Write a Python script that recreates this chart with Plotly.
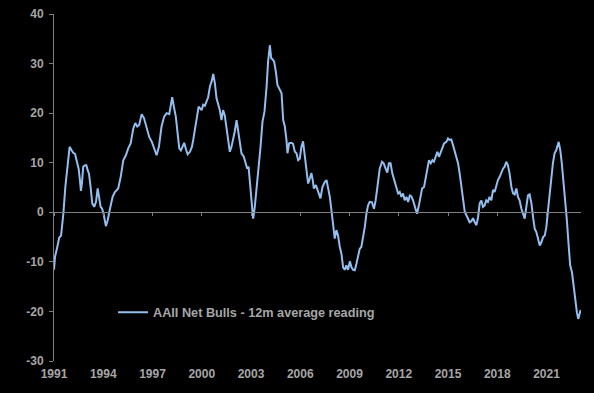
import plotly.graph_objects as go

# Decimal-year dates and AAII Net Bulls 12m average readings
years = [
    1991.00, 1991.06, 1991.20, 1991.32, 1991.43, 1991.50, 1991.57, 1991.69, 1991.83, 1991.95,
    1992.07, 1992.17, 1992.28, 1992.38, 1992.50, 1992.58, 1992.64, 1992.70, 1992.78, 1992.89,
    1992.97, 1993.05, 1993.13, 1993.23, 1993.33, 1993.45, 1993.56, 1993.66, 1993.76, 1993.84,
    1993.92, 1994.02, 1994.16, 1994.27, 1994.41, 1994.57, 1994.71, 1994.91, 1995.06, 1995.22,
    1995.38, 1995.52, 1995.67, 1995.83, 1995.95, 1996.07, 1996.19, 1996.34, 1996.48, 1996.64,
    1996.80, 1996.96, 1997.06, 1997.17, 1997.25, 1997.39, 1997.55, 1997.71, 1997.86, 1998.02,
    1998.10, 1998.20, 1998.30, 1998.42, 1998.53, 1998.63, 1998.73, 1998.83, 1998.93, 1999.04,
    1999.14, 1999.28, 1999.40, 1999.48, 1999.58, 1999.69, 1999.81, 1999.99, 2000.09, 2000.19,
    2000.30, 2000.39, 2000.50, 2000.60, 2000.70, 2000.80, 2000.90, 2001.00, 2001.10, 2001.20,
    2001.30, 2001.40, 2001.51, 2001.61, 2001.71, 2001.81, 2001.91, 2002.01, 2002.12, 2002.22,
    2002.32, 2002.42, 2002.56, 2002.68, 2002.77, 2002.85, 2002.93, 2003.03, 2003.13, 2003.23,
    2003.34, 2003.46, 2003.58, 2003.70, 2003.82, 2003.95, 2004.04, 2004.15, 2004.23, 2004.31,
    2004.41, 2004.51, 2004.61, 2004.76, 2004.86, 2004.96, 2005.06, 2005.16, 2005.22, 2005.32,
    2005.46, 2005.56, 2005.67, 2005.77, 2005.87, 2005.97, 2006.07, 2006.17, 2006.28, 2006.38,
    2006.48, 2006.58, 2006.68, 2006.76, 2006.83, 2006.95, 2007.09, 2007.23, 2007.35, 2007.49,
    2007.60, 2007.70, 2007.80, 2007.90, 2008.00, 2008.10, 2008.20, 2008.30, 2008.41, 2008.51,
    2008.61, 2008.71, 2008.81, 2008.91, 2009.02, 2009.12, 2009.22, 2009.32, 2009.42, 2009.52,
    2009.62, 2009.72, 2009.83, 2009.93, 2010.03, 2010.13, 2010.23, 2010.37, 2010.49, 2010.59,
    2010.70, 2010.84, 2010.98, 2011.08, 2011.20, 2011.30, 2011.40, 2011.50, 2011.61, 2011.71,
    2011.86, 2011.96, 2012.06, 2012.16, 2012.26, 2012.36, 2012.47, 2012.57, 2012.67, 2012.77,
    2012.87, 2012.97, 2013.11, 2013.21, 2013.32, 2013.42, 2013.54, 2013.64, 2013.74, 2013.84,
    2013.95, 2014.05, 2014.14, 2014.24, 2014.35, 2014.45, 2014.56, 2014.66, 2014.76, 2014.90,
    2015.00, 2015.10, 2015.20, 2015.30, 2015.41, 2015.51, 2015.61, 2015.71, 2015.81, 2015.91,
    2016.02, 2016.12, 2016.22, 2016.32, 2016.42, 2016.52, 2016.63, 2016.73, 2016.83, 2016.93,
    2017.03, 2017.13, 2017.23, 2017.33, 2017.43, 2017.53, 2017.64, 2017.74, 2017.84, 2017.94,
    2018.04, 2018.14, 2018.25, 2018.35, 2018.45, 2018.55, 2018.65, 2018.75, 2018.86, 2018.96,
    2019.06, 2019.16, 2019.26, 2019.36, 2019.47, 2019.57, 2019.67, 2019.77, 2019.87, 2019.97,
    2020.08, 2020.18, 2020.28, 2020.38, 2020.49, 2020.59, 2020.69, 2020.79, 2020.89, 2020.99,
    2021.09, 2021.19, 2021.29, 2021.39, 2021.49, 2021.59, 2021.74, 2021.84, 2021.93, 2022.03,
    2022.14, 2022.24, 2022.34, 2022.44, 2022.55, 2022.65, 2022.75, 2022.85, 2022.93, 2023.01,
    2023.08,
]
net_bulls = [
    -11.6, -9.0, -7.0, -5.1, -4.7, -3.0, -0.3, 5.1, 9.2, 13.2,
    12.5, 12.0, 11.8, 10.5, 8.8, 6.5, 4.3, 5.8, 9.2, 9.5,
    9.5, 8.5, 7.8, 5.1, 1.8, 1.1, 2.1, 4.8, 3.1, 1.1,
    0.8, -0.3, -2.8, -1.6, 0.7, 3.1, 4.1, 4.8, 7.1, 10.5,
    11.5, 12.9, 13.9, 16.9, 18.0, 17.3, 17.6, 19.8, 19.0, 17.3,
    15.2, 14.2, 13.2, 11.9, 11.5, 13.2, 17.3, 19.3, 20.0, 19.8,
    21.3, 23.2, 21.3, 19.3, 15.9, 12.9, 12.5, 13.2, 14.0, 12.7,
    11.7, 12.2, 13.2, 14.6, 16.9, 18.6, 21.3, 20.6, 21.7, 21.5,
    22.3, 23.2, 25.4, 26.4, 27.9, 26.0, 23.0, 22.0, 20.6, 18.6,
    20.6, 19.6, 16.9, 14.2, 12.2, 13.2, 14.6, 16.3, 18.6, 16.3,
    13.9, 11.9, 11.2, 9.9, 8.8, 9.2, 6.5, 3.1, -1.3, 1.1,
    4.5, 8.5, 13.2, 18.3, 20.3, 25.4, 30.4, 33.7, 31.1, 30.9,
    30.4, 28.4, 25.7, 24.7, 24.0, 18.6, 17.3, 14.6, 11.9, 13.9,
    14.0, 13.8, 12.2, 11.9, 10.5, 10.8, 13.2, 14.3, 11.2, 8.5,
    5.8, 6.8, 7.9, 6.5, 4.8, 5.5, 4.2, 2.8, 5.1, 6.1,
    6.5, 5.0, 3.1, 0.4, -2.3, -5.3, -3.6, -4.7, -7.0, -8.4,
    -11.1, -11.6, -10.7, -11.6, -9.9, -11.1, -11.6, -11.7, -10.4, -9.0,
    -7.4, -7.0, -5.0, -3.0, -0.3, 1.4, 2.1, 2.0, 0.7, 2.4,
    5.1, 8.8, 10.2, 9.9, 8.8, 8.0, 9.9, 9.9, 7.8, 6.5,
    4.5, 3.8, 4.1, 3.1, 3.8, 2.4, 3.1, 2.1, 3.4, 3.2,
    2.4, 1.4, -0.3, 1.1, 3.1, 4.8, 5.1, 6.8, 9.2, 10.5,
    9.9, 10.5, 10.2, 11.2, 12.2, 11.2, 12.2, 13.2, 13.9, 14.2,
    14.9, 14.6, 14.7, 13.6, 12.2, 10.9, 9.9, 7.8, 5.1, 2.4,
    0.1, -0.6, -1.3, -2.0, -1.8, -1.2, -2.0, -2.6, -1.0, 1.8,
    2.4, 1.1, 1.4, 2.4, 2.1, 3.1, 2.4, 4.5, 4.1, 5.5,
    6.5, 7.1, 8.2, 8.8, 9.2, 10.2, 9.5, 7.8, 5.1, 3.8,
    3.6, 4.8, 3.1, 2.4, 0.7, -0.6, -1.3, 1.1, 3.4, 3.6,
    1.8, -1.0, -3.3, -4.0, -5.7, -6.7, -6.0, -5.0, -4.7, -3.0,
    0.4, 3.8, 7.1, 9.9, 11.9, 12.5, 14.2, 12.5, 9.9, 6.5,
    3.1, -1.6, -6.3, -10.7, -12.1, -15.1, -17.8, -20.2, -21.5, -20.2,
    -19.7,
]

x_tick_vals = [1991, 1994, 1997, 2000, 2003, 2006, 2009, 2012, 2015, 2018, 2021]
x_tick_text = ["1991", "1994", "1997", "2000", "2003", "2006", "2009", "2012", "2015", "2018", "2021"]
y_tick_vals = [40, 30, 20, 10, 0, -10, -20, -30]
y_tick_text = ["40", "30", "20", "10", "0", "-10", "-20", "-30"]

series_name = "AAII Net Bulls - 12m average reading"

LABEL = "#a6a6a6"
AXIS = "#7f7f7f"
LINE = "#93BEF0"
FONT = "Liberation Sans, Arial, sans-serif"
x_range = [1991, 2023.1]
y_range = [-30, 40]

fig = go.Figure()
fig.add_trace(go.Scatter(
    x=years, y=net_bulls, mode="lines", name=series_name,
    line=dict(color=LINE, width=2), xaxis="x", yaxis="y",
))
# invisible companion trace so the zero-line tick axis (x2) is rendered
fig.add_trace(go.Scatter(
    x=years, y=net_bulls, mode="lines", showlegend=False, hoverinfo="skip",
    line=dict(color="rgba(0,0,0,0)", width=0), xaxis="x2", yaxis="y",
))

zero_pos = (0 - y_range[0]) / (y_range[1] - y_range[0])

fig.update_layout(
    width=594, height=393,
    margin=dict(l=54, r=13, t=14, b=32, autoexpand=False),
    paper_bgcolor="black", plot_bgcolor="black",
    font=dict(family=FONT, size=12, color=LABEL),
    showlegend=True,
    legend=dict(
        x=0.112, y=0.14, xanchor="left", yanchor="middle",
        bgcolor="rgba(0,0,0,0)", font=dict(family=FONT, size=12.7, color=LABEL, weight="bold"),
        itemwidth=30,
    ),
    xaxis=dict(
        range=x_range, tickmode="array", tickvals=x_tick_vals, ticktext=x_tick_text,
        showgrid=False, zeroline=False, showline=False, ticks="", automargin=False,
        ticklabelstandoff=4,
        tickfont=dict(family=FONT, size=12, color=LABEL, weight="bold"),
    ),
    xaxis2=dict(
        overlaying="x", matches="x", anchor="free", position=zero_pos, automargin=False,
        range=x_range, tickmode="array", tickvals=x_tick_vals,
        showticklabels=False, showgrid=False, zeroline=False,
        showline=True, linecolor=AXIS, linewidth=1,
        ticks="outside", ticklen=3, tickcolor=AXIS, tickwidth=1,
    ),
    yaxis=dict(
        range=y_range, tickmode="array", tickvals=y_tick_vals, ticktext=y_tick_text,
        showgrid=False, zeroline=False, showline=True, linecolor=AXIS, linewidth=1,
        ticks="outside", ticklen=4, tickcolor=AXIS, automargin=False,
        ticklabelstandoff=3,
        tickfont=dict(family=FONT, size=12, color=LABEL, weight="bold"),
    ),
)

# remove the browser's default 8px page margin so the figure sits at the corner
fig.write_html(
    "out.html",
    config={"displayModeBar": False},
    post_script="document.body.style.margin='0';document.body.style.background='black';",
)
